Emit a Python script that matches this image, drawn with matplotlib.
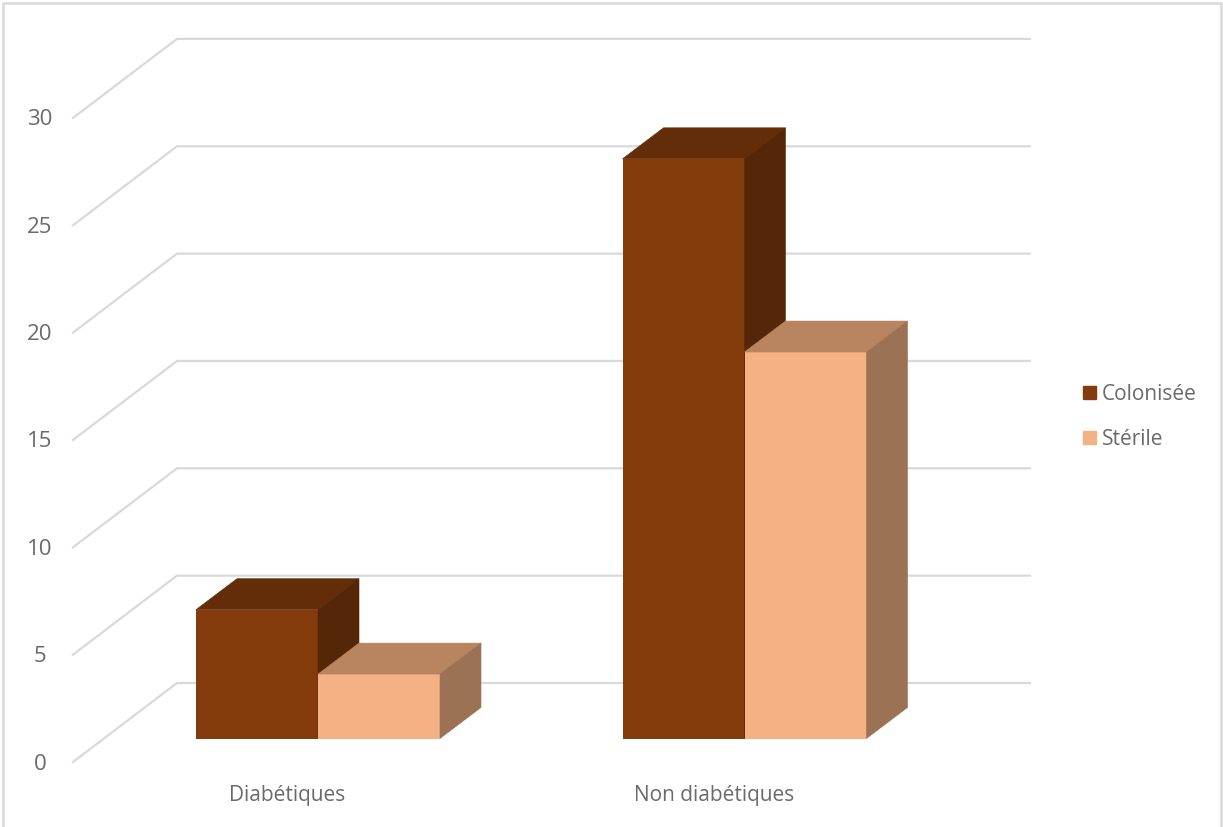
import matplotlib
matplotlib.use('Agg')
import matplotlib.pyplot as plt
from matplotlib.patches import Patch, Rectangle

categories = ['Diabétiques', 'Non diabétiques']
colonisee = [6, 27]
sterile = [3, 18]
y_ticks = [0, 5, 10, 15, 20, 25, 30]

# one colour per face of the fake 3D bars: front, top, side
colors_colonisee = ('#843C0C', '#632D09', '#552607')
colors_sterile = ('#F4B183', '#B98560', '#9B7253')
grid_color = '#D9D9D9'
text_color = '#6A6A6A'

W, H = 1223, 827
px_x = 426.5     # pixels per category
px_y = 21.47     # pixels per value unit
x0_px = 318.0    # pixel of first category centre
y0_px = 683.0    # pixel of value 0 on back wall


def dx(px):
    return px / px_x


def dy(px):
    return px / px_y


plt.rcParams['font.family'] = ['Open Sans', 'DejaVu Sans']

fig = plt.figure(figsize=(W / 100, H / 100), dpi=100)
ax = fig.add_axes([0, 0, 1, 1])
ax.set_xlim(-x0_px / px_x, (W - x0_px) / px_x)
ax.set_ylim((y0_px - H) / px_y, y0_px / px_y)
ax.axis('off')

# outer frame of the chart, the bottom edge is cropped off in the reference
fig.add_artist(Rectangle((3 / W, -10 / H), (W - 5) / W, (H + 7) / H, transform=fig.transFigure,
                         fill=False, edgecolor=grid_color, linewidth=1.8))

# back wall grid and floor/side diagonals
wall_left = dx(177 - x0_px)
wall_right = dx(1030 - x0_px)
for v in y_ticks:
    ax.plot([wall_left - dx(104), wall_left, wall_right], [v - dy(79), v, v],
            color=grid_color, lw=1.6, solid_joinstyle='miter', zorder=1)
    ax.text(wall_left - dx(137), v - dy(81), str(v), color=text_color, fontsize=16,
            ha='center', va='center')

# bars, depth goes up and to the right
bar_w = dx(122)
base = -dy(55.5)
depth_x = dx(41)
depth_y = dy(31)


def draw_bar(x, v, faces):
    top = base + v
    ax.bar(x, v, width=bar_w, bottom=base, align='edge', color=faces[0], zorder=3)
    ax.fill([x, x + bar_w, x + bar_w + depth_x, x + depth_x],
            [top, top, top + depth_y, top + depth_y], facecolor=faces[1],
            edgecolor=faces[1], lw=0.4, zorder=3)
    ax.fill([x + bar_w, x + bar_w + depth_x, x + bar_w + depth_x, x + bar_w],
            [base, base + depth_y, top + depth_y, top], facecolor=faces[2],
            edgecolor=faces[2], lw=0.4, zorder=3)


for i in range(len(categories)):
    draw_bar(i - bar_w, colonisee[i], colors_colonisee)
    draw_bar(i, sterile[i], colors_sterile)
    ax.text(i - dx(30.5), -dy(112), categories[i], color=text_color, fontsize=15,
            ha='center', va='center')

handles = [Patch(color=colors_colonisee[0], label='Colonisée'),
           Patch(color=colors_sterile[0], label='Stérile')]
fig.legend(handles=handles, loc='center left', bbox_to_anchor=(1064 / W, 1 - 417 / H),
           frameon=False, fontsize=15, labelcolor=text_color, handlelength=0.62,
           handleheight=0.62, handletextpad=0.29, labelspacing=1.15)

fig.savefig('out.png', dpi=100)
